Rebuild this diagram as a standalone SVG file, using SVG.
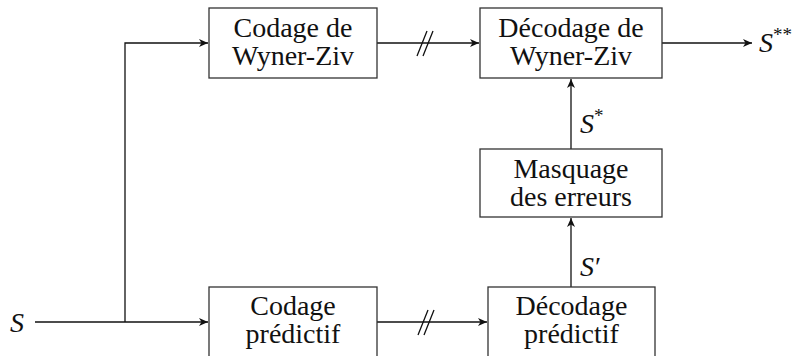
<svg xmlns="http://www.w3.org/2000/svg" width="798" height="356" viewBox="0 0 798 356">
<style>
.box{fill:#fff;stroke:#333;stroke-width:1.3}
.t{font-family:'Liberation Serif','DejaVu Serif',serif;font-size:28px;fill:#111;text-anchor:middle}
.m{font-family:'Liberation Serif','DejaVu Serif',serif;font-size:28px;font-style:italic;fill:#111}
.c{fill:none;stroke:#111;stroke-width:1.3}
</style>
<defs>
<marker id="arr" markerWidth="10" markerHeight="8" refX="9" refY="4" orient="auto" markerUnits="userSpaceOnUse">
<path d="M0,0 L9,4 L0,8 L2.5,4 Z" fill="#111"/>
</marker>
</defs>
<g id="connectors">
<path class="c" d="M35,322 H208" marker-end="url(#arr)"/>
<path class="c" d="M125,322 V43 H208" marker-end="url(#arr)"/>
<path class="c" d="M377,43 H479" marker-end="url(#arr)"/>
<path class="c" d="M417,56 L427,31 M423,56 L433,31"/>
<path class="c" d="M662,43 H752" marker-end="url(#arr)"/>
<path class="c" d="M571,149 V79" marker-end="url(#arr)"/>
<path class="c" d="M571,287 V218" marker-end="url(#arr)"/>
<path class="c" d="M377,322 H487" marker-end="url(#arr)"/>
<path class="c" d="M418,335 L428,310 M424,335 L434,310"/>
</g>
<g id="n_cwz">
<rect class="box" x="209" y="8" width="168" height="70"/>
<text class="t" x="293" y="37">Codage de</text>
<text class="t" x="293" y="65">Wyner-Ziv</text>
</g>
<g id="n_dwz">
<rect class="box" x="480" y="8" width="182" height="70"/>
<text class="t" x="571" y="37">Décodage de</text>
<text class="t" x="571" y="65">Wyner-Ziv</text>
</g>
<g id="n_mask">
<rect class="box" x="480" y="149" width="182" height="68"/>
<text class="t" x="571" y="178">Masquage</text>
<text class="t" x="571" y="206">des erreurs</text>
</g>
<g id="n_cp">
<rect class="box" x="209" y="287" width="168" height="72"/>
<text class="t" x="293" y="315">Codage</text>
<text class="t" x="293" y="343">prédictif</text>
</g>
<g id="n_dp">
<rect class="box" x="488" y="287" width="167" height="72"/>
<text class="t" x="571.5" y="315">Décodage</text>
<text class="t" x="571.5" y="343">prédictif</text>
</g>
<g id="labels">
<text class="m" x="10" y="332">S</text>
<text class="m" x="759" y="52">S<tspan font-style="normal" font-size="19" dy="-11">**</tspan></text>
<text class="m" x="580" y="133">S<tspan font-style="normal" font-size="19" dy="-11">*</tspan></text>
<text class="m" x="580" y="276">S<tspan font-style="normal" dx="1">′</tspan></text>
</g>
</svg>
